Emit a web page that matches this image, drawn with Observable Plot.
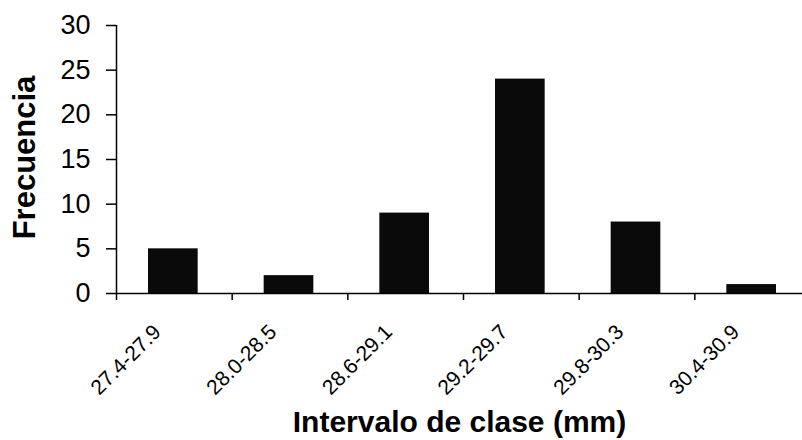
<!DOCTYPE html>
<html><head><meta charset="utf-8">
<script src="https://cdn.jsdelivr.net/npm/d3@7"></script>
<script src="https://cdn.jsdelivr.net/npm/@observablehq/plot@0.6"></script>
<style>body{margin:0;background:#fff;overflow:hidden} svg{display:block}</style>
</head><body><div id="chart"></div>
<script>
const categories = ["27.4-27.9", "28.0-28.5", "28.6-29.1", "29.2-29.7", "29.8-30.3", "30.4-30.9"];
const frequencies = [5, 2, 9, 24, 8, 1];
const yTicks = [0, 5, 10, 15, 20, 25, 30];
const xLabel = "Intervalo de clase (mm)";
const yLabel = "Frecuencia";

const data = categories.map((c, i) => ({c, i, f: frequencies[i]}));
const boundaries = d3.range(categories.length + 1);

const plot = Plot.plot({
  width: 802, height: 440,
  marginLeft: 116, marginRight: -8, marginTop: 25, marginBottom: 147,
  style: {fontFamily: "'Liberation Sans', Arial, sans-serif", background: "#fff", color: "#000"},
  x: {domain: [0, categories.length], axis: null},
  y: {domain: [0, 30], axis: null},
  marks: [
    Plot.rectY(data, {x1: d => d.i, x2: d => d.i + 1, y1: 0, y2: "f", insetLeft: 32, insetRight: 34, fill: "#0a0a0a"}),
    Plot.axisY(yTicks, {tickSize: 10, tickPadding: 16, fontSize: 27, label: null, strokeWidth: 1.5}),
    Plot.axisX(boundaries, {tickSize: 7, tickFormat: () => "", label: null, strokeWidth: 1.5}),
    Plot.ruleX([0], {strokeWidth: 1.5}),
    Plot.ruleY([0], {strokeWidth: 1.5}),
    Plot.text(data, {x: d => d.i + 0.5, y: 0, text: "c", rotate: -45, textAnchor: "end", lineAnchor: "middle", dx: -17, dy: 35, fontSize: 21}),
    Plot.text([yLabel], {frameAnchor: "left", rotate: -90, textAnchor: "middle", lineAnchor: "middle", dx: -91, dy: -2, fontSize: 31, fontWeight: "bold"}),
    Plot.text([xLabel], {frameAnchor: "bottom", textAnchor: "middle", lineAnchor: "middle", dy: 129, dx: -4, fontSize: 30, fontWeight: "bold"})
  ]
});
document.getElementById("chart").appendChild(plot);
</script>
</body></html>
